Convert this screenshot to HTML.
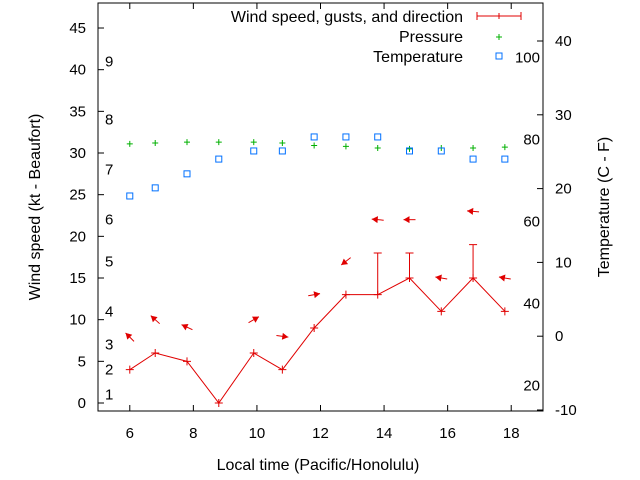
<!DOCTYPE html>
<html><head><meta charset="utf-8"><style>
html,body{margin:0;padding:0;background:#fff}
svg{display:block;font-family:"Liberation Sans",sans-serif;font-size:15px}
.big{font-size:16px}
</style></head><body>
<svg id="chart" width="640" height="480" viewBox="0 0 640 480">
<rect x="0" y="0" width="640" height="480" fill="#fff"/>
<g id="grid-layer"></g>
<g id="marks"></g>
<text class="big" x="318" y="470" text-anchor="middle" fill="#000">Local time (Pacific/Honolulu)</text>
<text class="big" transform="translate(40,207) rotate(-90)" text-anchor="middle" fill="#000">Wind speed (kt - Beaufort)</text>
<text class="big" transform="translate(609,207) rotate(-90)" text-anchor="middle" fill="#000">Temperature (C - F)</text>
<g>
<text class="big" x="463" y="22" text-anchor="end">Wind speed, gusts, and direction</text>
<g stroke="#e00000" stroke-width="1"><line x1="477" y1="16" x2="521" y2="16"/><line x1="477" y1="12" x2="477" y2="20"/><line x1="521" y1="12" x2="521" y2="20"/><line x1="499" y1="13" x2="499" y2="19"/></g>
<text class="big" x="463" y="42" text-anchor="end">Pressure</text>
<g stroke="#00b000"><line x1="496" y1="37" x2="502" y2="37"/><line x1="499" y1="34" x2="499" y2="40"/></g>
<text class="big" x="463" y="62" text-anchor="end">Temperature</text>
<rect x="496" y="53" width="6" height="6" fill="none" stroke="#0070ff"/>
</g>
</svg>
<script>
const times=[6,6.8,7.8,8.8,9.9,10.8,11.8,12.8,13.8,14.8,15.8,16.8,17.8];
const wind=[4,6,5,0,6,4,9,13,13,15,11,15,11];
const gusts=[null,null,null,null,null,null,null,null,18,18,null,19,null];
const pressure=[31.1,31.2,31.3,31.3,31.3,31.2,30.9,30.8,30.6,30.5,30.6,30.6,30.7];
const tempC=[19,20.1,22,24,25.1,25.1,27,27,27,25.1,25.1,24,24];
const arrowTimes=[6,6.8,7.8,9.9,10.8,11.8,12.8,13.8,14.8,15.8,16.8,17.8];
const arrowY=[7.9,10,9.1,10,8,13,17,22,22,15,23,15];
const arrowAngle=[135,138,155,30,-8,10,218,175,180,170,175,170];
const xTicks=[6,8,10,12,14,16,18];
const yTicks=[0,5,10,15,20,25,30,35,40,45];
const y2Ticks=[-10,0,10,20,30,40];
const fTicks=[20,40,60,80,100];
const bftLevels=[1,2,3,4,5,6,7,8,9];
const bftKt=[1,4,7,11,17,22,28,34,41];

const L=98,R=543,T=3,B=411;
const X=t=>L+(t-5)/(19-5)*(R-L);
const Y=v=>403-v*8.333;
const Y2=c=>410-(c+10)*7.38;
const NS='http://www.w3.org/2000/svg';
const marks=document.getElementById('marks');
const grid=document.getElementById('grid-layer');
function el(tag,attrs,parent,txt){const e=document.createElementNS(NS,tag);for(const k in attrs)e.setAttribute(k,attrs[k]);if(txt!==undefined)e.textContent=txt;(parent||marks).appendChild(e);return e;}

const frame=el('rect',{x:L,y:T,width:R-L,height:B-T,fill:'none',stroke:'#000'},grid);


xTicks.forEach(t=>{
  const x=X(t);
  el('line',{x1:x,y1:B,x2:x,y2:B-6,stroke:'#000'},grid);
  el('line',{x1:x,y1:T,x2:x,y2:T+6,stroke:'#000'},grid);
  const tx=el('text',{x:x,y:B+27,'text-anchor':'middle'},grid,String(t));
  
  
});
yTicks.forEach(v=>{
  const y=Y(v);
  el('line',{x1:L,y1:y,x2:L+6,y2:y,stroke:'#000'},grid);
  const tx=el('text',{x:L-12,y:y+5,'text-anchor':'end'},grid,String(v));
  
  
});
y2Ticks.forEach(c=>{
  const y=Y2(c);
  el('line',{x1:R,y1:y,x2:R-6,y2:y,stroke:'#000'},grid);
  const tx=el('text',{x:R+12,y:y+5,'text-anchor':'start'},grid,String(c));
  
  
});
fTicks.forEach(f=>{
  const tx=el('text',{x:R-3,y:Y2((f-32)*5/9)+5,'text-anchor':'end'},grid,String(f));
  
  
});
bftLevels.forEach((b,i)=>{
  const tx=el('text',{x:105,y:Y(bftKt[i])+5,'text-anchor':'start'},grid,String(b));
  
  
});

pressure.forEach((p,i)=>{
  const x=X(times[i]),y=Y(p);
  const g=el('path',{d:`M${x-3},${y}H${x+3}M${x},${y-3}V${y+3}`,stroke:'#00b000',fill:'none'});
  
  
});
tempC.forEach((c,i)=>{
  const r=el('rect',{x:X(times[i])-3,y:Y2(c)-3,width:6,height:6,fill:'none',stroke:'#0070ff'});
  
  
});
const line=el('polyline',{points:times.map((t,i)=>X(t)+','+Y(wind[i])).join(' '),fill:'none',stroke:'#e00000'});


wind.forEach((w,i)=>{
  const x=X(times[i]),y=Y(w);
  const p=el('path',{d:`M${x-4},${y}H${x+4}M${x},${y-4}V${y+4}`,stroke:'#e00000',fill:'none'});
  
  
  if(gusts[i]!=null){
    const gy=Y(gusts[i]);
    const g=el('path',{d:`M${x},${y}V${gy}M${x-4},${gy}H${x+4}`,stroke:'#e00000',fill:'none'});
    
    
  }
});
arrowTimes.forEach((t,i)=>{
  const cx=X(t),cy=Y(arrowY[i]);
  const a=arrowAngle[i]*Math.PI/180,dx=Math.cos(a),dy=-Math.sin(a);
  const hx=cx+dx*6,hy=cy+dy*6,tx=cx-dx*6,ty=cy-dy*6;
  const px=-dy,py=dx;
  const g=el('g',{});
  
  
  el('line',{x1:tx,y1:ty,x2:hx,y2:hy,stroke:'#e00000'},g);
  el('polygon',{points:`${hx},${hy} ${hx-dx*6+px*3.5},${hy-dy*6+py*3.5} ${hx-dx*6-px*3.5},${hy-dy*6-py*3.5}`,fill:'#e00000'},g);
});
</script>
</body></html>
